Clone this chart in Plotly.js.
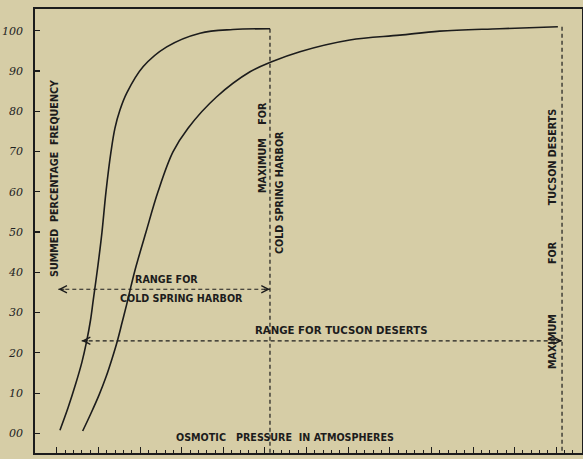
<!DOCTYPE html>
<html><head><meta charset="utf-8">
<script src="https://cdn.plot.ly/plotly-3.0.1.min.js"></script>
<style>html,body{margin:0;padding:0;background:#d6cda6;}</style>
</head><body>
<div id="chart" style="width:583px;height:459px;"></div>
<script>
// Cold Spring Harbor summed percentage frequency curve
var cshX = [0.36, 1.32, 2.28, 3.0, 3.57, 4.03, 4.36, 4.93, 5.41, 5.89, 6.49, 6.97, 7.57, 8.38, 10.37, 13.19, 17.19, 21.15, 25.6];
var cshY = [0.8, 6.3, 12.5, 17.7, 22.9, 28.1, 33.1, 41.8, 50.0, 60.0, 69.9, 75.8, 80.3, 84.5, 91.1, 96.0, 99.4, 100.3, 100.5];
// Tucson deserts summed percentage frequency curve
var tucX = [3.09, 4.09, 5.05, 5.89, 6.61, 7.25, 7.81, 8.35, 8.89, 9.44, 10.7, 12.14, 13.94, 15.75, 19.2, 23.2, 25.8, 29.2, 35.2, 41.2, 46.0, 53.2, 60.2];
var tucY = [0.6, 5.0, 9.5, 14.0, 18.5, 22.9, 27.4, 31.8, 36.5, 41.0, 50.0, 60.0, 69.9, 75.8, 83.6, 89.8, 92.3, 94.8, 97.7, 98.9, 99.9, 100.5, 101.0];
// ranges (start, maximum) and the level of the range arrows
var cshRange = [0.16, 25.6];
var tucRange = [2.97, 60.7];
var cshRangeLevel = 35.8;
var tucRangeLevel = 23;
var maxTop = [100.5, 101.0];
// y tick labels
var yTickVals = [0, 10, 20, 30, 40, 50, 60, 70, 80, 90, 100];
var yTickText = ['00', '10', '20', '30', '40', '50', '60', '70', '80', '90', '100'];

var ink = '#1c1c1c';
var bg = '#d6cda6';
var yRange = [-4.87, 105.4];
var xRange = [-2.64, 63.1];

var majorX = [], minorX = [];
for (var v = 0; v <= 62; v++) { if (v % 5 === 0) majorX.push(v); else minorX.push(v); }

var traces = [
  {x: cshX, y: cshY, mode: 'lines', line: {color: ink, width: 1.6, shape: 'spline', smoothing: 1}, hoverinfo: 'skip'},
  {x: tucX, y: tucY, mode: 'lines', line: {color: ink, width: 1.6, shape: 'spline', smoothing: 1}, hoverinfo: 'skip'}
];

var dash = '4px,3px';
var shapes = [
  {type: 'line', xref: 'x', yref: 'y', x0: cshRange[1], x1: cshRange[1], y0: maxTop[0], y1: yRange[0], line: {color: ink, width: 1.2, dash: dash}},
  {type: 'line', xref: 'x', yref: 'y', x0: tucRange[1], x1: tucRange[1], y0: maxTop[1], y1: yRange[0], line: {color: ink, width: 1.2, dash: dash}},
  {type: 'line', xref: 'x', yref: 'y', x0: cshRange[0], x1: cshRange[1], y0: cshRangeLevel, y1: cshRangeLevel, line: {color: ink, width: 1.2, dash: dash}},
  {type: 'line', xref: 'x', yref: 'y', x0: tucRange[0], x1: tucRange[1], y0: tucRangeLevel, y1: tucRangeLevel, line: {color: ink, width: 1.2, dash: dash}}
];

function head(xTip, xTail, yv) {
  return {x: xTip, y: yv, ax: xTail, ay: yv, xref: 'x', yref: 'y', axref: 'x', ayref: 'y',
    text: '', showarrow: true, arrowhead: 5, arrowsize: 1.4, arrowwidth: 1, arrowcolor: ink, standoff: 0};
}

var lab = {family: 'DejaVu Sans, sans-serif', size: 9.6, color: ink, weight: 'bold'};
function txt(t, px, py, ang, size) {
  var f = {family: lab.family, size: size || lab.size, color: lab.color, weight: lab.weight};
  return {text: t, xref: 'paper', yref: 'paper', x: (px - 35) / 547, y: (453 - py) / 444,
    xanchor: 'center', yanchor: 'middle', showarrow: false, textangle: ang || 0, font: f};
}
function sp(n) { var s = ''; for (var i = 0; i < n; i++) s += '\u00a0'; return s; }
var annotations = [
  head(cshRange[0], cshRange[0] + 0.9, cshRangeLevel),
  head(cshRange[1], cshRange[1] - 0.9, cshRangeLevel),
  head(tucRange[0], tucRange[0] + 0.9, tucRangeLevel),
  head(tucRange[1], tucRange[1] - 0.9, tucRangeLevel),
  txt('SUMMED' + sp(1) + ' PERCENTAGE' + sp(1) + ' FREQUENCY', 54, 178, -90),
  txt('MAXIMUM' + sp(3) + ' FOR', 262, 148, -90),
  txt('COLD SPRING HARBOR', 279, 193, -90),
  txt('MAXIMUM' + sp(14) + ' FOR' + sp(10) + ' TUCSON DESERTS', 552, 239, -90),
  txt('RANGE FOR', 166, 279),
  txt('COLD SPRING HARBOR', 181, 298),
  txt('RANGE FOR TUCSON DESERTS', 341, 331, 0, 10.2),
  txt('OSMOTIC' + sp(2) + ' PRESSURE' + sp(1) + ' IN ATMOSPHERES', 285, 437)
];

var layout = {
  width: 583, height: 459,
  paper_bgcolor: bg, plot_bgcolor: bg,
  margin: {l: 35, r: 1, t: 9, b: 6, pad: 0},
  showlegend: false,
  xaxis: {
    range: xRange, showgrid: false, zeroline: false,
    showline: true, linecolor: ink, linewidth: 1.6, mirror: true,
    tickmode: 'array', tickvals: majorX, ticks: 'inside', ticklen: 6, tickwidth: 1, tickcolor: ink,
    showticklabels: false,
    minor: {tickmode: 'array', tickvals: minorX, ticks: 'inside', ticklen: 3, tickwidth: 1, tickcolor: ink}
  },
  yaxis: {
    range: yRange, showgrid: false, zeroline: false,
    showline: true, linecolor: ink, linewidth: 1.8, mirror: true,
    tickmode: 'array', tickvals: yTickVals, ticktext: yTickText,
    ticks: 'inside', ticklen: 5, tickwidth: 1.2, tickcolor: ink,
    ticklabelstandoff: 8,
    tickfont: {family: 'DejaVu Serif, serif', size: 11, style: 'italic', color: '#222'}
  },
  shapes: shapes,
  annotations: annotations
};

Plotly.newPlot('chart', traces, layout, {displayModeBar: false, staticPlot: true});
</script>
</body></html>
